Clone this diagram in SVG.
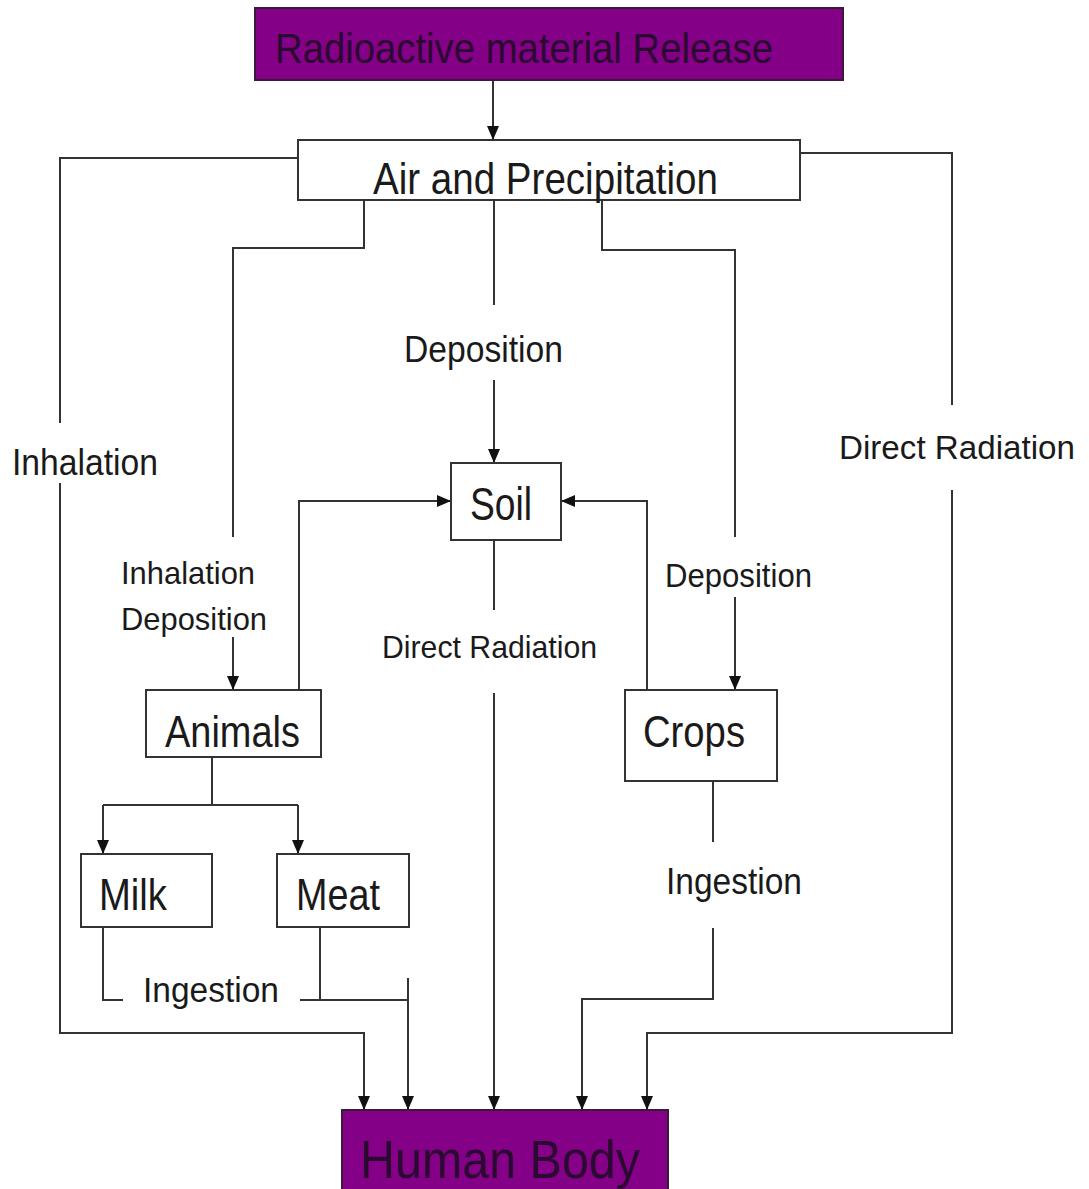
<svg xmlns="http://www.w3.org/2000/svg" width="1089" height="1189" viewBox="0 0 1089 1189">
<style>
.box{fill:#ffffff;stroke:#333333;stroke-width:2}
.pbox{fill:#840087;stroke:#3a1a3a;stroke-width:2}
.lbl{font-family:"Liberation Sans",Arial,sans-serif;fill:#1a1a1a}
.ptxt{font-family:"Liberation Sans",Arial,sans-serif;fill:#2a0a30}
.ln{fill:none;stroke:#333333;stroke-width:2}
</style>
<defs>
<marker id="ah" markerUnits="userSpaceOnUse" markerWidth="14" markerHeight="12" refX="14" refY="6" orient="auto">
<path d="M0,0 L14,6 L0,12 z" fill="#111111"/>
</marker>
</defs>
<rect width="1089" height="1189" fill="#ffffff"/>

<g id="connectors">
<path class="ln" d="M493,80 V140" marker-end="url(#ah)"/>
<path class="ln" d="M298,158 H60 V423"/>
<path class="ln" d="M60,483 V1033 H364 V1110" marker-end="url(#ah)"/>
<path class="ln" d="M800,153 H952 V405"/>
<path class="ln" d="M952,490 V1033 H647 V1110" marker-end="url(#ah)"/>
<path class="ln" d="M364,200 V248 H233 V537"/>
<path class="ln" d="M233,637 V690" marker-end="url(#ah)"/>
<path class="ln" d="M494,200 V305"/>
<path class="ln" d="M494,380 V463" marker-end="url(#ah)"/>
<path class="ln" d="M602,200 V250 H735 V537"/>
<path class="ln" d="M735,597 V690" marker-end="url(#ah)"/>
<path class="ln" d="M299,690 V501 H451" marker-end="url(#ah)"/>
<path class="ln" d="M647,690 V501 H561" marker-end="url(#ah)"/>
<path class="ln" d="M494,540 V610"/>
<path class="ln" d="M494,693 V1110" marker-end="url(#ah)"/>
<path class="ln" d="M212,757 V805"/>
<path class="ln" d="M103,805 H298"/>
<path class="ln" d="M103,805 V854" marker-end="url(#ah)"/>
<path class="ln" d="M298,805 V854" marker-end="url(#ah)"/>
<path class="ln" d="M103,927 V1000 H123"/>
<path class="ln" d="M300,1000 H408"/>
<path class="ln" d="M320,927 V1000"/>
<path class="ln" d="M408,978 V1110" marker-end="url(#ah)"/>
<path class="ln" d="M713,781 V842"/>
<path class="ln" d="M713,928 V999 H582 V1110" marker-end="url(#ah)"/>
</g>

<g id="edge-labels">
<text class="lbl" x="12" y="475" font-size="36" textLength="146" lengthAdjust="spacingAndGlyphs">Inhalation</text>
<text class="lbl" x="839" y="459" font-size="34" textLength="236" lengthAdjust="spacingAndGlyphs">Direct Radiation</text>
<text class="lbl" x="404" y="362" font-size="36" textLength="159" lengthAdjust="spacingAndGlyphs">Deposition</text>
<text class="lbl" x="121" y="584" font-size="32" textLength="134" lengthAdjust="spacingAndGlyphs">Inhalation</text>
<text class="lbl" x="121" y="630" font-size="32" textLength="146" lengthAdjust="spacingAndGlyphs">Deposition</text>
<text class="lbl" x="665" y="587" font-size="33" textLength="147" lengthAdjust="spacingAndGlyphs">Deposition</text>
<text class="lbl" x="382" y="658" font-size="32" textLength="215" lengthAdjust="spacingAndGlyphs">Direct Radiation</text>
<text class="lbl" x="143" y="1002" font-size="35" textLength="136" lengthAdjust="spacingAndGlyphs">Ingestion</text>
<text class="lbl" x="666" y="894" font-size="36" textLength="136" lengthAdjust="spacingAndGlyphs">Ingestion</text>
</g>

<g id="node-release">
<rect class="pbox" x="255" y="8" width="588" height="72"/>
<text class="ptxt" x="275" y="63" font-size="42" textLength="498" lengthAdjust="spacingAndGlyphs">Radioactive material Release</text>
</g>
<g id="node-air">
<rect class="box" x="298" y="140" width="502" height="60"/>
<text class="lbl" x="373" y="194" font-size="44" textLength="345" lengthAdjust="spacingAndGlyphs">Air and Precipitation</text>
</g>
<g id="node-soil">
<rect class="box" x="451" y="463" width="110" height="77"/>
<text class="lbl" x="470" y="520" font-size="46" textLength="62" lengthAdjust="spacingAndGlyphs">Soil</text>
</g>
<g id="node-animals">
<rect class="box" x="146" y="690" width="175" height="67"/>
<text class="lbl" x="165" y="747" font-size="44" textLength="135" lengthAdjust="spacingAndGlyphs">Animals</text>
</g>
<g id="node-crops">
<rect class="box" x="625" y="690" width="152" height="91"/>
<text class="lbl" x="643" y="747" font-size="44" textLength="102" lengthAdjust="spacingAndGlyphs">Crops</text>
</g>
<g id="node-milk">
<rect class="box" x="81" y="854" width="131" height="73"/>
<text class="lbl" x="99" y="910" font-size="44" textLength="68" lengthAdjust="spacingAndGlyphs">Milk</text>
</g>
<g id="node-meat">
<rect class="box" x="277" y="854" width="132" height="73"/>
<text class="lbl" x="296" y="910" font-size="44" textLength="84" lengthAdjust="spacingAndGlyphs">Meat</text>
</g>
<g id="node-human">
<rect class="pbox" x="342" y="1110" width="326" height="82"/>
<text class="ptxt" x="360" y="1178" font-size="54" textLength="280" lengthAdjust="spacingAndGlyphs">Human Body</text>
</g>
</svg>
